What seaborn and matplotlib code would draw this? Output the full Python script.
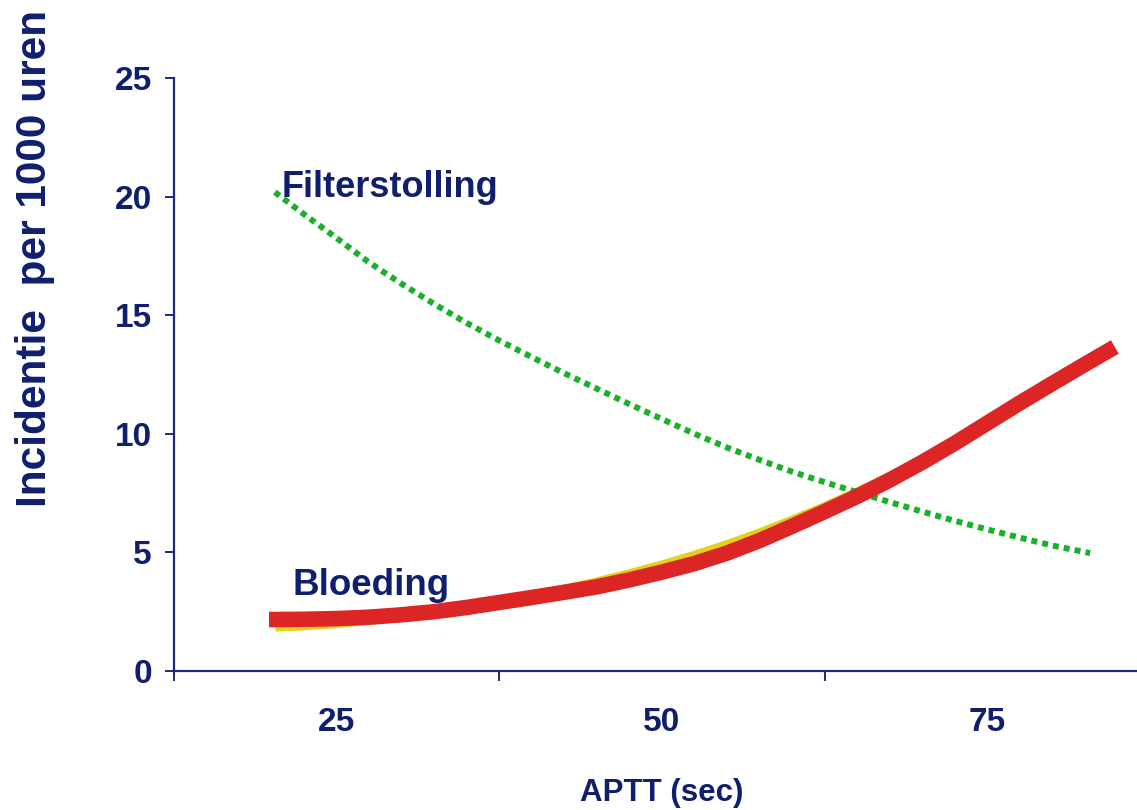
import matplotlib
matplotlib.use("Agg")
import matplotlib.pyplot as plt
import seaborn as sns
import pandas as pd

# APTT (sec) against incidence per 1000 hours
clot_aptt = [20.25, 22.5, 25, 27.5, 30, 32.5, 35, 37.5, 40, 42.5, 45, 47.5, 50,
             52.5, 55, 57.5, 60, 62.5, 65, 67.5, 70, 72.5, 75, 77.5, 80, 82.9]
clot_rate = [20.19, 19.25, 18.25, 17.22, 16.32, 15.47, 14.67, 13.93, 13.23, 12.55,
             11.9, 11.25, 10.62, 10.0, 9.42, 8.9, 8.4, 7.96, 7.54, 7.12, 6.72,
             6.33, 5.97, 5.62, 5.29, 4.97]

bleed_aptt = [19.8, 22.5, 25, 27.5, 30, 32.5, 35, 37.5, 40, 42.5, 45, 47.5, 50,
              52.5, 55, 57.5, 60, 62.5, 65, 67.5, 70, 72.5, 75, 77.5, 80, 82.5, 84.8]
bleed_rate = [2.17, 2.18, 2.21, 2.27, 2.37, 2.5, 2.68, 2.89, 3.1, 3.32, 3.55, 3.84,
              4.17, 4.53, 4.97, 5.5, 6.1, 6.72, 7.36, 8.05, 8.8, 9.6, 10.45, 11.3,
              12.12, 12.93, 13.66]

trend_aptt = [20.3, 22.5, 25, 27.5, 30, 32.5, 35, 37.5, 40, 42.5, 45, 47.5, 50,
              52.5, 55, 57.5, 60, 62.5, 65, 67.5, 70, 72.5, 75, 77.5, 80, 82.5, 84.3]
trend_rate = [1.85, 1.9, 2.0, 2.13, 2.3, 2.48, 2.7, 2.93, 3.18, 3.45, 3.76, 4.1,
              4.47, 4.88, 5.33, 5.82, 6.36, 6.93, 7.55, 8.2, 8.88, 9.62, 10.42,
              11.25, 12.08, 12.92, 13.55]

x_bounds = [12.5, 37.5, 62.5, 87.5]
x_labels = [25, 50, 75]
y_ticks = [0, 5, 10, 15, 20, 25]

NAVY = "#0f1f6e"
AXIS = "#1c2a78"
RED = "#dc2626"
GREEN = "#19b02a"
YELLOW = "#e2d21c"

sns.set_style("white")
plt.rcParams["font.family"] = ["Liberation Sans", "DejaVu Sans"]

fig = plt.figure(figsize=(11.37, 8.10), dpi=100)
W, H = 1137, 810
left_px, right_px, top_px, bottom_px = 174, 1150, 78, 671
ax = fig.add_axes([left_px / W, 1 - bottom_px / H,
                   (right_px - left_px) / W, (bottom_px - top_px) / H])

trend = pd.DataFrame({"aptt": trend_aptt, "rate": trend_rate})
bleed = pd.DataFrame({"aptt": bleed_aptt, "rate": bleed_rate})
clot = pd.DataFrame({"aptt": clot_aptt, "rate": clot_rate})

sns.lineplot(data=trend, x="aptt", y="rate", ax=ax, color=YELLOW, lw=6.5,
             solid_capstyle="butt", solid_joinstyle="round", sort=False, zorder=2)
sns.lineplot(data=clot, x="aptt", y="rate", ax=ax, color=GREEN, lw=4.3,
             linestyle=(0, (1, 0.85)), dash_capstyle="butt", sort=False, zorder=3)
sns.lineplot(data=bleed, x="aptt", y="rate", ax=ax, color=RED, lw=11.2,
             solid_capstyle="butt", solid_joinstyle="round", sort=False, zorder=4)

ax.set_xlim(x_bounds[0], x_bounds[-1])
ax.set_ylim(y_ticks[0], y_ticks[-1])

for side in ("top", "right"):
    ax.spines[side].set_visible(False)
for side in ("left", "bottom"):
    ax.spines[side].set_color(AXIS)
    ax.spines[side].set_linewidth(1.6)

ax.set_yticks(y_ticks)
ax.set_yticklabels([str(v) for v in y_ticks])
ax.tick_params(axis="y", which="major", direction="out", length=6.5, width=1.4,
               color=AXIS, pad=9.5, labelcolor=NAVY, left=True)

ax.set_xticks(x_bounds)
ax.set_xticklabels([""] * len(x_bounds))
ax.set_xticks(x_labels, minor=True)
ax.set_xticklabels([str(v) for v in x_labels], minor=True)
ax.tick_params(axis="x", which="major", direction="out", length=7.5, width=1.4,
               color=AXIS, bottom=True)
ax.tick_params(axis="x", which="minor", length=0, pad=26, labelcolor=NAVY, bottom=True)

for lab in ax.get_yticklabels() + ax.get_xticklabels(minor=True):
    lab.set_fontsize(24)
    lab.set_fontweight("bold")

ax.set_xlabel("APTT (sec)", fontsize=22.5, fontweight="bold", color=NAVY,
              va="baseline")
ax.xaxis.set_label_coords(0.5, (bottom_px - 801) / (bottom_px - top_px))

ax.set_ylabel("Incidentie  per 1000 uren", fontsize=30.5, fontweight="bold",
              color=NAVY, va="center", ha="center")
ax.yaxis.set_label_coords((35.5 - left_px) / (right_px - left_px),
                          (bottom_px - 258) / (bottom_px - top_px))

ax.text(20.75, 19.98, "Filterstolling", fontsize=26, fontweight="bold",
        color=NAVY, ha="left", va="baseline", zorder=5)
ax.text(21.6, 3.2, "Bloeding", fontsize=26.5, fontweight="bold",
        color=NAVY, ha="left", va="baseline", zorder=5)

ax.grid(False)
fig.savefig("out.png", dpi=100)
